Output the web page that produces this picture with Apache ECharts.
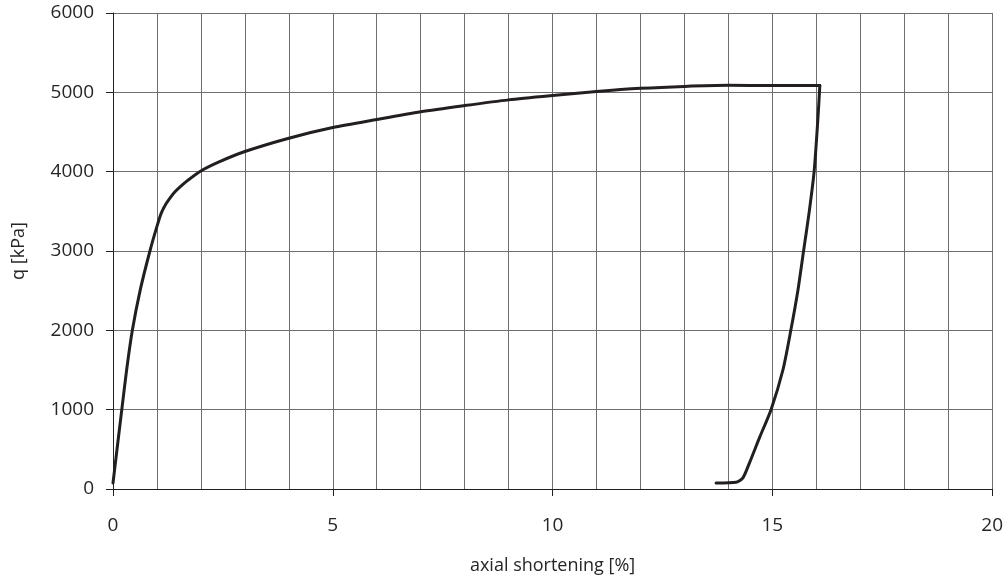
<!DOCTYPE html>
<html>
<head>
<meta charset="utf-8">
<script src="https://cdn.jsdelivr.net/npm/echarts@6/dist/echarts.min.js"></script>
<style>
  html, body { margin: 0; padding: 0; background: #fff; }
  #chart { width: 1006px; height: 581px; }
</style>
</head>
<body>
<div id="chart"></div>
<script>
// Triaxial test: deviator stress q against axial shortening, loading and unloading
const xTicks = [0, 5, 10, 15, 20];
const yTicks = [0, 1000, 2000, 3000, 4000, 5000, 6000];

// loading branch: axial shortening [%]
const loadStrain = [0, 0.09, 0.2, 0.31, 0.44, 0.62, 0.84, 1.0, 1.1, 1.2, 1.3, 1.4, 1.52, 1.7, 1.97, 2.4, 3, 4, 5, 6, 7, 8, 9, 10, 11, 12, 13, 14, 15, 16.08];
// loading branch: q [kPa]
const loadQ = [75, 495, 1000, 1500, 2000, 2510, 3000, 3310, 3480, 3590, 3670, 3740, 3805, 3890, 4000, 4120, 4254, 4422, 4556, 4658, 4755, 4833, 4905, 4960, 5010, 5050, 5075, 5088, 5086, 5085];

// unloading branch, starting from the peak
const unloadStrain = [16.08, 16.04, 15.95, 15.84, 15.71, 15.58, 15.42, 15.24, 14.97, 14.71, 14.48, 14.33, 14.18, 13.72];
const unloadQ = [5085, 4700, 4000, 3500, 3000, 2500, 2000, 1500, 1000, 650, 330, 140, 85, 75];

const loading = loadStrain.map((x, i) => [x, loadQ[i]]);
const unloading = unloadStrain.map((x, i) => [x, unloadQ[i]]);

const font = 'Open Sans';
const textColor = '#262626';
const gridColor = '#6e6e6e';
const curveStyle = { color: '#231f20', width: 3, join: 'round', cap: 'round' };

const chart = echarts.init(document.getElementById('chart'), null, { renderer: 'canvas' });
chart.setOption({
  animation: false,
  backgroundColor: '#fff',
  grid: { left: 113, right: 13, top: 13, bottom: 92 },
  xAxis: {
    type: 'value',
    min: xTicks[0],
    max: xTicks[xTicks.length - 1],
    interval: 5,
    name: 'axial shortening [%]',
    nameLocation: 'middle',
    nameGap: 68,
    nameTextStyle: { fontFamily: font, fontSize: 18, color: textColor },
    axisLine: { show: true, onZero: false, lineStyle: { color: '#231f20', width: 1 } },
    axisTick: { show: true, inside: false, length: 7, lineStyle: { color: '#231f20' } },
    axisLabel: { margin: 27, fontFamily: font, fontSize: 19, color: textColor, formatter: v => String(v) },
    splitLine: { show: true, lineStyle: { color: gridColor, width: 1 } },
    minorTick: { show: false, splitNumber: 5 },
    minorSplitLine: { show: true, lineStyle: { color: gridColor, width: 1 } }
  },
  yAxis: {
    type: 'value',
    min: yTicks[0],
    max: yTicks[yTicks.length - 1],
    interval: 1000,
    name: 'q [kPa]',
    nameLocation: 'middle',
    nameGap: 85,
    nameTextStyle: { fontFamily: font, fontSize: 18, color: textColor },
    axisLine: { show: true, onZero: false, lineStyle: { color: '#231f20', width: 1 } },
    axisTick: { show: true, inside: false, length: 7, lineStyle: { color: '#231f20' } },
    axisLabel: { margin: 19, fontFamily: font, fontSize: 19, color: textColor, formatter: v => String(v) },
    splitLine: { show: true, lineStyle: { color: gridColor, width: 1 } }
  },
  series: [
    { type: 'line', data: loading, showSymbol: false, smooth: 0.25, lineStyle: curveStyle },
    { type: 'line', data: unloading, showSymbol: false, smooth: 0.25, lineStyle: curveStyle }
  ]
});
</script>
</body>
</html>
